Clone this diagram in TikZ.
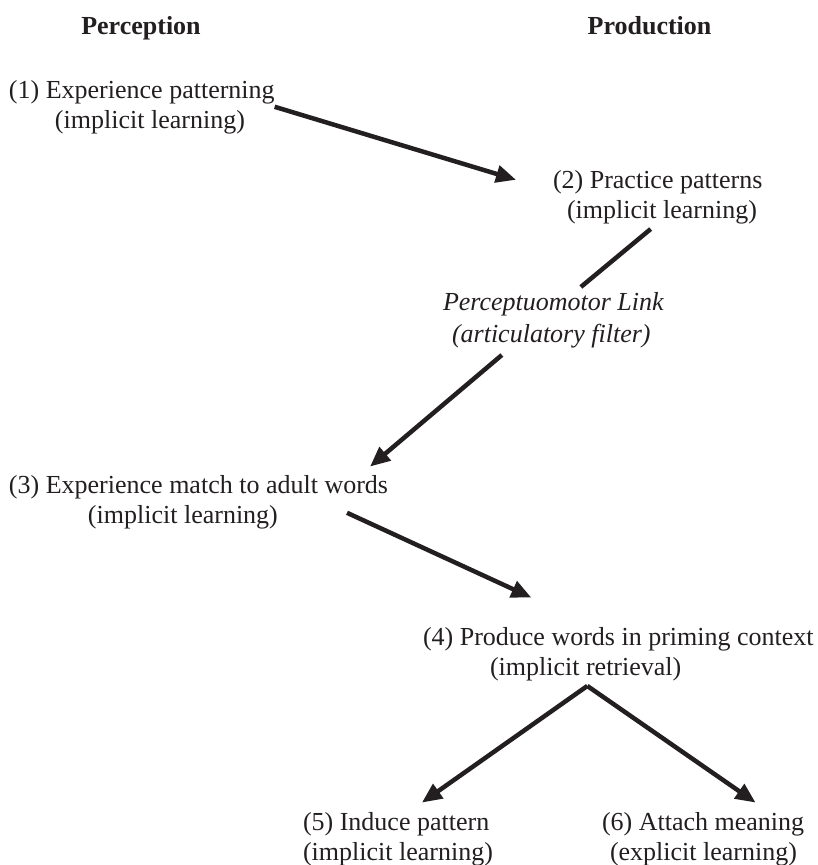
\documentclass[tikz,border=0pt]{standalone}
\usepackage{fontspec}
\setmainfont{Liberation Serif}
\usetikzlibrary{arrows.meta,calc}
\definecolor{ink}{RGB}{35,31,32}
\begin{document}
\begin{tikzpicture}[x=1pt,y=-1pt,
  txt/.style={inner sep=0pt,outer sep=0pt,align=left,text=ink,font=\fontsize{26}{30}\selectfont},
  head/.style={inner sep=0pt,outer sep=0pt,text=ink,font=\fontsize{26}{30}\selectfont\bfseries},
  conn/.style={draw=ink,line width=4.5pt},
  arr/.style={conn,-{Triangle[length=20pt,width=17pt]}}]
\useasboundingbox[fill=white] (0,0) rectangle (818,865);

\node[head,anchor=base] (perc) at (141,34) {Perception};
\node[head,anchor=base] (prod) at (649.5,34) {Production};

\node[txt,anchor=base west] (n1) at (9,128) {(1) Experience patterning\\\hspace*{46pt}(implicit learning)};
\node[txt,anchor=base west] (n2) at (553,218) {(2) Practice patterns\\\hspace*{14pt}(implicit learning)};
\node[txt,anchor=base west,font=\fontsize{26}{32}\selectfont\itshape] (link) at (443,342) {Perceptuomotor Link\\\hspace*{9pt}(articulatory filter)};
\node[txt,anchor=base west] (n3) at (9,523) {(3) Experience match to adult words\\\hspace*{79pt}(implicit learning)};
\node[txt,anchor=base west] (n4) at (423,675) {(4) Produce words in priming context\\\hspace*{67pt}(implicit retrieval)};
\node[txt,anchor=base west] (n5) at (303,860) {(5) Induce pattern\\(implicit learning)};
\node[txt,anchor=base west] (n6) at (602,860) {(6) Attach meaning\\\hspace*{8pt}(explicit learning)};

\draw[arr] (n1.east) -- ($(n2.west)+(-37,-17)$);
\draw[conn] ($(n2.south)+(-7,5.4)$) -- ($(link.north)+(27.5,-5)$);
\draw[arr] ($(link.south)+(-51.5,7.4)$) -- ($(n3.north east)+(-18,-8.4)$);
\draw[arr] ($(n3.east)+(-41,11)$) -- ($(n4.north)+(-87,-29.4)$);
\coordinate (apex) at ($(n4.south)+(-31,5.4)$);
\draw[arr] (apex) -- ($(n5.north)+(24,-9.4)$);
\draw[arr] (apex) -- ($(n6.north)+(52.5,-9.4)$);
\end{tikzpicture}
\end{document}
